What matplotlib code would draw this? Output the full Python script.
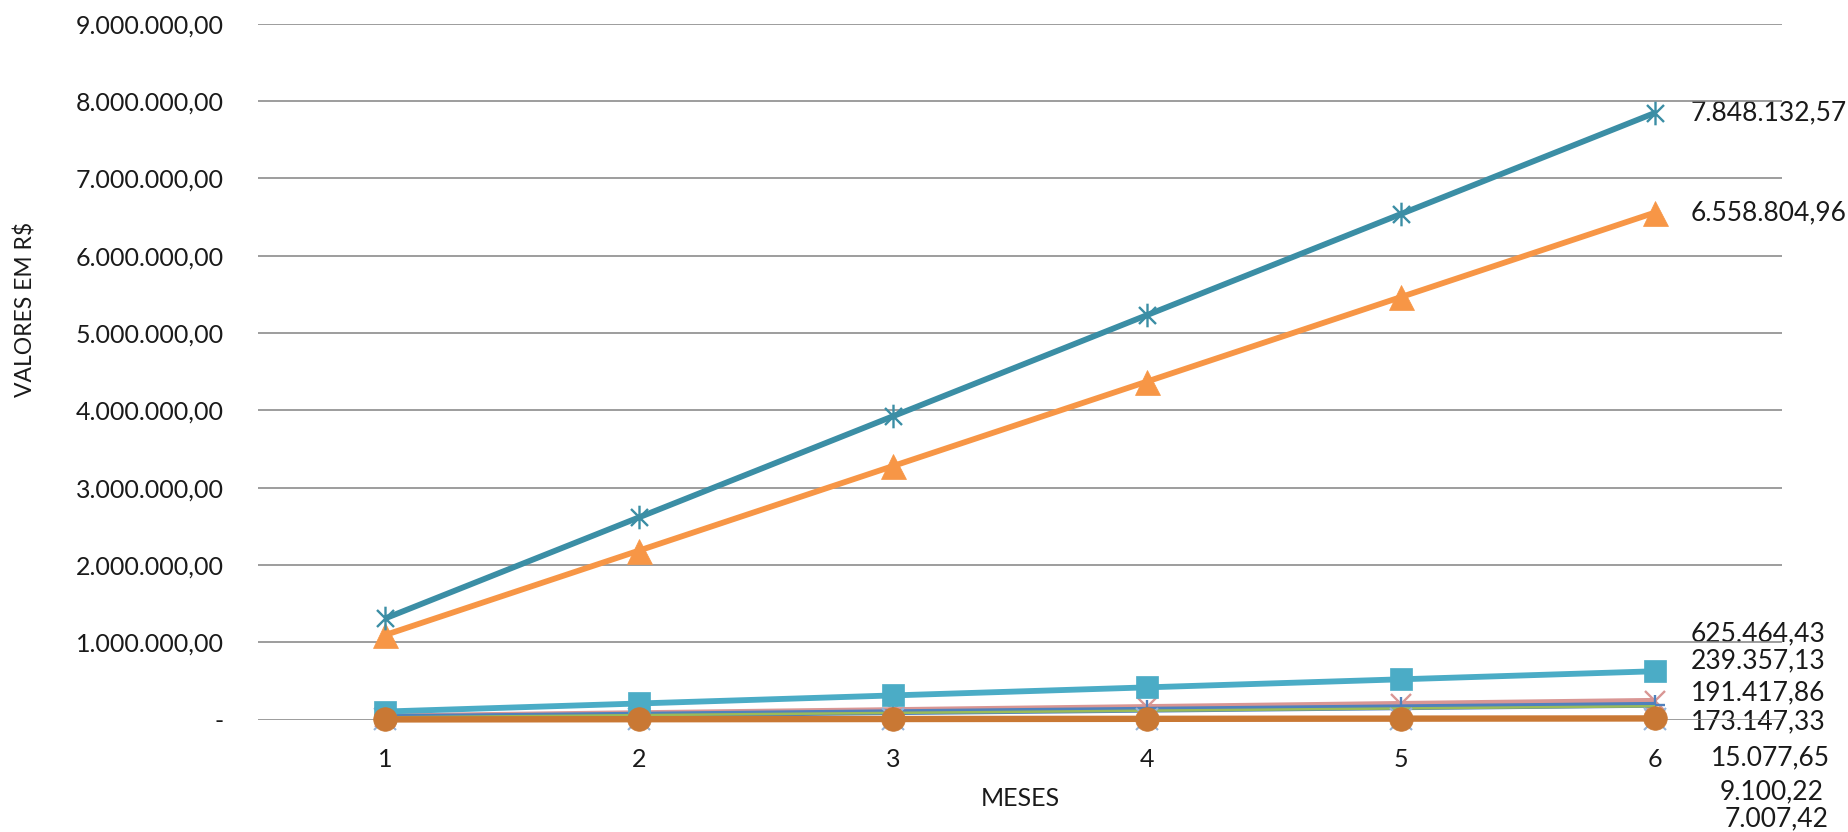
import matplotlib
matplotlib.use("Agg")
import matplotlib.pyplot as plt
from matplotlib.path import Path
from matplotlib.ticker import FuncFormatter, MultipleLocator
from matplotlib.transforms import blended_transform_factory, offset_copy

plt.rcParams['font.family'] = ['Lato', 'DejaVu Sans']

# ---------------- data ----------------
meses = [1, 2, 3, 4, 5, 6]
serie_a = [1308022.10, 2616044.19, 3924066.29, 5232088.38, 6540110.48, 7848132.57]
serie_b = [1093134.16, 2186268.32, 3279402.48, 4372536.64, 5465670.80, 6558804.96]
serie_c = [104244.07, 208488.14, 312732.22, 416976.29, 521220.36, 625464.43]
serie_d = [39892.86, 79785.71, 119678.57, 159571.42, 199464.28, 239357.13]
serie_e = [31902.98, 63805.95, 95708.93, 127611.91, 159514.88, 191417.86]
serie_f = [28857.89, 57715.78, 86573.67, 115431.55, 144289.44, 173147.33]
serie_g = [2512.94, 5025.88, 7538.83, 10051.77, 12564.71, 15077.65]
serie_h = [1516.70, 3033.41, 4550.11, 6066.81, 7583.52, 9100.22]
serie_i = [1167.90, 2335.81, 3503.71, 4671.61, 5839.52, 7007.42]

series = [serie_d, serie_e, serie_f, serie_h, serie_i, serie_c, serie_g, serie_b, serie_a]

eixo_x = "MESES"
eixo_y = "VALORES EM R$"

# ---------------- styles ----------------
star = Path([(0, -1), (0, 1), (-0.72, -0.72), (0.72, 0.72), (-0.72, 0.72), (0.72, -0.72)],
            [Path.MOVETO, Path.LINETO] * 3)

colors = ['#D99694', '#4F81BD', '#9BBB59', '#95B3D7', '#8064A2', '#4BACC6', '#C97834', '#F79646', '#3B8EA5']
markers = ['x', '+', None, 'x', None, 's', 'o', '^', star]
lws = [4.6, 4.2, 1.8, 1.5, 1.5, 4.2, 4.6, 4.2, 4.2]
mss = [14, 15, 0, 16, 0, 16, 17, 18, 17]
mews = [1.7, 1.7, 0, 1.5, 0, 0, 0, 0, 1.7]
# label layout (pixels): horizontal offset from last point, vertical fig-pixel position (None = at point)
label_dx_px = [36, 36, 36, 65, 70, 36, 56, 36, 36]
label_y_px = [661, 693, 722, 792, 819, 634, 758, None, None]

W, H = 1848, 832
fig = plt.figure(figsize=(W / 100, H / 100), dpi=100)
ax_left, ax_right, ax_top, ax_bottom = 258, 1782, 23.8, 719.6
ax = fig.add_axes([ax_left / W, 1 - ax_bottom / H, (ax_right - ax_left) / W, (ax_bottom - ax_top) / H])


def fmt_br(v, pos=None):
    if abs(v) < 0.005:
        return '-'
    s = f"{v:,.2f}"
    return s.replace(',', 'X').replace('.', ',').replace('X', '.')


for i, ys in enumerate(series):
    mk = markers[i]
    kw = dict(color=colors[i], lw=lws[i], zorder=3 + i, clip_on=False, solid_capstyle='butt')
    if mk is not None:
        if mk in ('x', '+') or mk is star:
            kw.update(marker=mk, markersize=mss[i], markeredgewidth=mews[i],
                      markeredgecolor=colors[i], markerfacecolor='none')
        else:
            kw.update(marker=mk, markersize=mss[i], markerfacecolor=colors[i],
                      markeredgecolor=colors[i], markeredgewidth=0.5)
    ax.plot(meses, ys, **kw)

ax.set_xlim(0.5, 6.5)
ax.set_ylim(0, 9000000)
ax.yaxis.set_major_locator(MultipleLocator(1000000))
ax.yaxis.set_major_formatter(FuncFormatter(fmt_br))
ax.set_xticks(meses)
ax.set_xticklabels([str(m) for m in meses])
ax.grid(axis='y', color='#8C8C8C', lw=1.2)
ax.set_axisbelow(True)
for sp in ax.spines.values():
    sp.set_visible(False)
ax.tick_params(axis='y', length=0, pad=24.5, labelsize=18, labelcolor='#1a1a1a')
ax.tick_params(axis='x', length=0, pad=20.5, labelsize=18, labelcolor='#1a1a1a')

# data labels at the last point
for i, ys in enumerate(series):
    tx = offset_copy(ax.transData, fig=fig, x=label_dx_px[i], y=0, units='dots')
    if label_y_px[i] is None:
        ax.text(meses[-1], ys[-1], fmt_br(ys[-1]), transform=tx, ha='left', va='center',
                fontsize=19, color='#1a1a1a', clip_on=False, zorder=0.3)
    else:
        tr = blended_transform_factory(tx, fig.transFigure)
        ax.text(meses[-1], 1 - label_y_px[i] / H, fmt_br(ys[-1]), transform=tr, ha='left',
                va='center', fontsize=19, color='#1a1a1a', clip_on=False, zorder=0.3)

fig.text(1020 / W, 1 - 798 / H, eixo_x, ha='center', va='center', fontsize=18, color='#1a1a1a')
fig.text(26 / W, 1 - 309 / H, eixo_y, ha='center', va='center', rotation=90, fontsize=16.5,
         color='#1a1a1a')

fig.savefig('out.png', dpi=100, facecolor='white')
